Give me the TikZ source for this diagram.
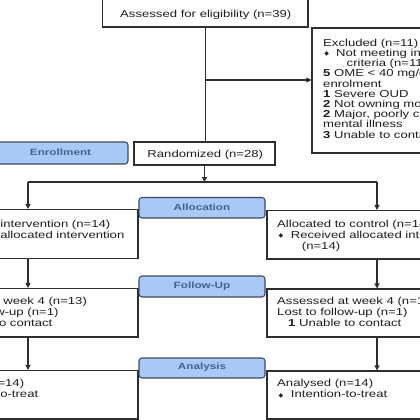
\documentclass[tikz,border=0pt]{standalone}
\usepackage{fontspec}
\setmainfont{Liberation Sans}[FakeStretch=1.3]
\newfontfamily\symfont{DejaVu Sans}
\usetikzlibrary{arrows.meta,fit}
\definecolor{lblfill}{HTML}{A8C8F6}
\definecolor{lbldraw}{HTML}{3F4A5C}
\definecolor{lbltext}{HTML}{44638F}
\definecolor{boxline}{HTML}{2E2E2E}
\newcommand{\bul}{\raisebox{0.8bp}{\fontsize{6bp}{6bp}\symfont ◆}}
\begin{document}
\begin{tikzpicture}[x=1bp,y=-1bp,
  box/.style={draw=boxline,line width=1.05bp,inner sep=0pt,fill=white},
  lbl/.style={draw=lbldraw,line width=1.05bp,fill=lblfill,rounded corners=3bp,inner sep=0pt},
  lbltxt/.style={inner sep=0pt,text=lbltext,font=\fontsize{9bp}{10bp}\selectfont\bfseries},
  txt/.style={inner sep=0pt,anchor=base west,align=left,text=black!88,font=\fontsize{10.1bp}{11bp}\selectfont},
  txtx/.style={txt,font=\fontsize{10.1bp}{10.2bp}\selectfont},
  arr/.style={-{Triangle[length=5bp,width=5bp]},line width=1.05bp,draw=boxline},
  ln/.style={line width=1.05bp,draw=boxline}]
\useasboundingbox (0,0) rectangle (420,420);
\clip (0,0) rectangle (420,420);
\fill[white] (0,0) rectangle (420,420);
% boxes
\node[box,fit={(102.7,-2) (308,27)}] (top) {};
\node[box,fit={(312,28) (530,153)}] (excl) {};
\node[box,fit={(134,142) (275,165)}] (rand) {};
\node[box,fit={(-82,209.5) (138,258.5)}] (alloc1) {};
\node[box,fit={(267,210.5) (487,259)}] (alloc2) {};
\node[box,fit={(-82,288.5) (138,337)}] (fu1) {};
\node[box,fit={(267,289) (487,337)}] (fu2) {};
\node[box,fit={(-82,370.5) (138,419)}] (an1) {};
\node[box,fit={(267,371) (487,419)}] (an2) {};
% stage labels
\node[lbl,fit={(-7,142) (128,164)}] (lenr) {};
\node[lbl,fit={(139,197.5) (265,218)}] (lall) {};
\node[lbl,fit={(139,276) (265,297)}] (lfu) {};
\node[lbl,fit={(139,358) (265,378)}] (lan) {};
\node[lbltxt] (tenr) at ([yshift=0.5bp]lenr.center) {Enrollment};
\node[lbltxt] (tall) at ([yshift=0.5bp]lall.center) {Allocation};
\node[lbltxt] (tlfu) at ([yshift=0.5bp]lfu.center) {Follow-Up};
\node[lbltxt] (tlan) at ([yshift=0.5bp]lan.center) {Analysis};
% texts (base anchor = baseline of last line)
\node[txt,anchor=base] (ttop) at (205.8,17.5) {Assessed for eligibility (n=39)};
\node[txt,anchor=base] (trand) at (205.3,157.7) {Randomized (n=28)};
\node[txtx] (texcl) at (323,138) {Excluded (n=11)\\
\makebox[13bp][l]{\hspace{1.2bp}\bul}Not meeting inclusion\\
\hspace{23.5bp}criteria (n=11)\\
\textbf{5} OME < 40 mg/day at\\
enrolment\\
\textbf{1} Severe OUD\\
\textbf{2} Not owning mobile phone\\
\textbf{2} Major, poorly controlled\\
mental illness\\
\textbf{3} Unable to contact};
\node[txt] (tal1) at (-72,249.2) {Allocated to intervention (n=14)\\
\makebox[13.7bp][l]{\hspace{1.5bp}\bul}Received allocated intervention\\
\hspace{24.7bp}(n=14)};
\node[txt] (tal2) at (277,249.2) {Allocated to control (n=14)\\
\makebox[13.7bp][l]{\hspace{1.5bp}\bul}Received allocated intervention\\
\hspace{24.7bp}(n=14)};
\node[txt] (tfu1) at (-72,326.5) {Assessed at week 4 (n=13)\\
Lost to follow-up (n=1)\\
\hspace{11bp}\textbf{1} Unable to contact};
\node[txt] (tfu2) at (277,326.5) {Assessed at week 4 (n=13)\\
Lost to follow-up (n=1)\\
\hspace{11bp}\textbf{1} Unable to contact};
\node[txt] (tan1) at (-72,397.9) {Analysed (n=14)\\
\makebox[13.7bp][l]{\hspace{1.5bp}\bul}Intention-to-treat};
\node[txt] (tan2) at (277,397.9) {Analysed (n=14)\\
\makebox[13.7bp][l]{\hspace{1.5bp}\bul}Intention-to-treat};
% connectors
\coordinate (j1) at (top.south |- 0,80);
\draw[ln] (top.south) -- (top.south |- rand.north);
\draw[arr] (j1) -- (j1 -| excl.west);
\coordinate (split) at (rand.south |- 0,182);
\coordinate (sl) at (alloc1.north |- 0,182);
\coordinate (sr) at (alloc2.north |- 0,182);
\draw[arr] (rand.south) -- (split);
\draw[ln] (sl) -- (sr);
\draw[arr] (sl) -- (alloc1.north);
\draw[arr] (sr) -- (alloc2.north);
\draw[arr] (alloc1.south) -- (fu1.north);
\draw[arr] (alloc2.south) -- (fu2.north);
\draw[arr] (fu1.south) -- (an1.north);
\draw[arr] (fu2.south) -- (an2.north);
\end{tikzpicture}
\end{document}
